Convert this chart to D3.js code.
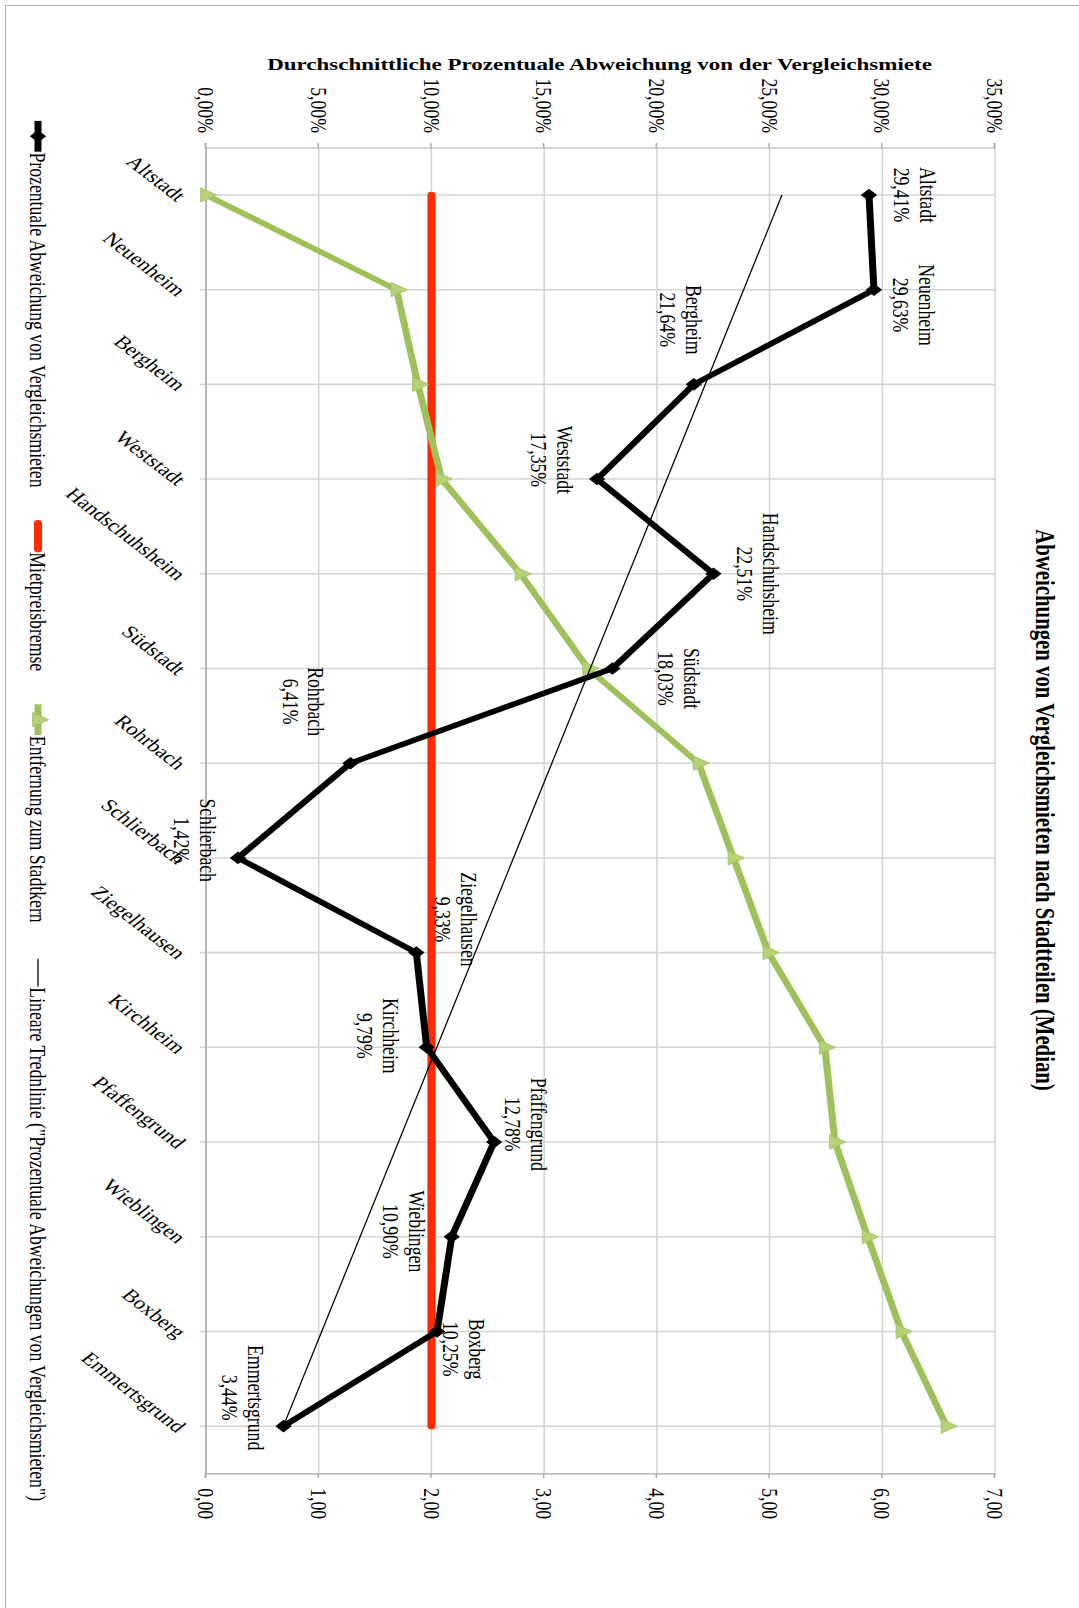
<!DOCTYPE html>
<html lang="de">
<head>
<meta charset="utf-8">
<style>
	body { margin: 0; background: #fff; }
	svg { display: block; }
	text { font-family: "Liberation Serif", "Times New Roman", serif; fill: #000; }
</style>
</head>
<body>
<script src="https://d3js.org/d3.v7.min.js"></script>
<script>
// Daten
var stadtteile = ["Altstadt", "Neuenheim", "Bergheim", "Weststadt", "Handschuhsheim", "Südstadt",
	"Rohrbach", "Schlierbach", "Ziegelhausen", "Kirchheim", "Pfaffengrund", "Wieblingen",
	"Boxberg", "Emmertsgrund"];
var abweichung = [29.41, 29.63, 21.64, 17.35, 22.51, 18.03, 6.41, 1.42, 9.33, 9.79, 12.78, 10.90, 10.25, 3.44];
var entfernung = [0.00, 1.69, 1.88, 2.09, 2.79, 3.39, 4.37, 4.68, 4.99, 5.49, 5.58, 5.87, 6.17, 6.57];
var mietpreisbremse = 10;
var linksTicks = [0, 5, 10, 15, 20, 25, 30, 35];
var rechtsTicks = [0, 1, 2, 3, 4, 5, 6, 7];
var legende = ["Prozentuale Abweichung von Vergleichsmieten", "Mietpreisbremse",
	"Entfernung zum Stadtkern", "Lineare Trednlinie (\"Prozentuale Abweichungen von Vergleichsmieten\")"];

// Beschriftungs-Versatz (im ungedrehten Diagramm)
var labelOffset = [[0, -46], [20, -40], [-84, 13], [-25, 45], [0, -45], [13, -67], [-80, 47],
	[-23, 43], [-43, -40], [-15, 49], [-23, -32], [-7, 48], [23, -27], [-37, 41]];

var W = 1079, H = 1608, K = 0.77;
var fmt = function (v) { return d3.format(".2f")(v).replace(".", ","); };

var svg = d3.select("body").append("svg").attr("width", W).attr("height", H);
svg.append("rect").attr("x", 5.5).attr("y", 5.5).attr("width", W + 10).attr("height", H + 10)
	.attr("fill", "none").attr("stroke", "#b0b0b0");

// the whole chart is drawn upright and then turned onto the page
var g = svg.append("g").attr("transform", "translate(" + W + ",0) rotate(90) scale(" + K + ",1)");

var x0 = 147.6 / K, x1 = 1473.5 / K, yBottom = 873, yTop = 84;
var x = d3.scalePoint().domain(stadtteile).range([x0, x1]).padding(0.5);
var yL = d3.scaleLinear().domain([0, 35]).range([yBottom, yTop]);
var yR = d3.scaleLinear().domain([0, 7]).range([yBottom, yTop]);

// gridlines
g.append("g").selectAll("line").data(linksTicks).enter().append("line")
	.attr("x1", x0).attr("x2", x1)
	.attr("y1", function (d) { return yL(d); }).attr("y2", function (d) { return yL(d); })
	.attr("stroke", "#d4d4d4").attr("stroke-width", 1.5);
g.append("g").selectAll("line").data(stadtteile).enter().append("line")
	.attr("x1", function (d) { return x(d); }).attr("x2", function (d) { return x(d); })
	.attr("y1", yBottom + 6).attr("y2", yTop)
	.attr("stroke", "#d4d4d4").attr("stroke-width", 2);

// axes
function styleAxis(sel) {
	sel.select(".domain").attr("stroke", "#a8a8a8").attr("stroke-width", 1.5);
	sel.selectAll(".tick line").attr("stroke", "#a8a8a8").attr("stroke-width", 1.5);
	sel.selectAll("text").attr("font-family", "Liberation Serif").attr("font-size", 23).attr("fill", "#000");
}
g.append("g").attr("transform", "translate(" + x0 + ",0)")
	.call(d3.axisLeft(yL).tickValues(linksTicks).tickSize(6).tickPadding(13)
		.tickFormat(function (d) { return fmt(d) + "%"; }))
	.call(styleAxis);
g.append("g").attr("transform", "translate(" + x1 + ",0)")
	.call(d3.axisRight(yR).tickValues(rechtsTicks).tickSize(6).tickPadding(13).tickFormat(fmt))
	.call(styleAxis);
g.append("line").attr("x1", x0).attr("x2", x1).attr("y1", yBottom).attr("y2", yBottom)
	.attr("stroke", "#a8a8a8").attr("stroke-width", 1.5);

// category labels
g.append("g").selectAll("text").data(stadtteile).enter().append("text")
	.attr("transform", function (d) { return "translate(" + (x(d) + 4) + "," + (yBottom + 24) + ") rotate(-45)"; })
	.attr("text-anchor", "end").attr("dy", "0.35em").attr("font-size", 23)
	.text(function (d) { return d; });

// axis title and chart title
g.append("text").attr("transform", "translate(82.6,479.5) rotate(-90)")
	.attr("text-anchor", "middle").attr("dy", "0.35em")
	.attr("font-size", 23).attr("font-weight", "bold")
	.text("Durchschnittliche Prozentuale Abweichung von der Vergleichsmiete");
g.append("text").attr("x", 1052).attr("y", 34).attr("dy", "0.35em")
	.attr("text-anchor", "middle").attr("font-size", 27).attr("font-weight", "bold")
	.text("Abweichungen von Vergleichsmieten nach Stadtteilen (Median)");

// Mietpreisbremse
g.append("line")
	.attr("x1", x(stadtteile[0])).attr("x2", x(stadtteile[stadtteile.length - 1]))
	.attr("y1", yL(mietpreisbremse)).attr("y2", yL(mietpreisbremse))
	.attr("stroke", "#ff2a00").attr("stroke-width", 8).attr("stroke-linecap", "round");

// green series
var lineR = d3.line().x(function (d, i) { return x(stadtteile[i]); }).y(function (d) { return yR(d); });
g.append("path").datum(entfernung).attr("d", lineR)
	.attr("fill", "none").attr("stroke", "#9fc15c").attr("stroke-width", 7).attr("stroke-linejoin", "round");
var tri = d3.symbol().type(d3.symbolTriangle).size(150);
g.append("g").selectAll("path").data(entfernung).enter().append("path")
	.attr("d", tri)
	.attr("transform", function (d, i) { return "translate(" + x(stadtteile[i]) + "," + yR(d) + ")"; })
	.attr("fill", "#b5d277").attr("stroke", "#a3c360").attr("stroke-width", 1);

// black series
var lineL = d3.line().x(function (d, i) { return x(stadtteile[i]); }).y(function (d) { return yL(d); });
g.append("path").datum(abweichung).attr("d", lineL)
	.attr("fill", "none").attr("stroke", "#000").attr("stroke-width", 7).attr("stroke-linejoin", "round");
var dia = d3.symbol().type(d3.symbolDiamond2).size(170);
g.append("g").selectAll("path").data(abweichung).enter().append("path")
	.attr("d", dia)
	.attr("transform", function (d, i) { return "translate(" + x(stadtteile[i]) + "," + yL(d) + ")"; })
	.attr("fill", "#000");

// linear trend of the black series
var n = abweichung.length, mx = (n + 1) / 2, my = d3.mean(abweichung);
var sxy = d3.sum(abweichung, function (d, i) { return (i + 1 - mx) * (d - my); });
var sxx = d3.sum(abweichung, function (d, i) { return (i + 1 - mx) * (i + 1 - mx); });
var slope = sxy / sxx;
var trend = function (i) { return my + slope * (i + 1 - mx); };
g.append("line")
	.attr("x1", x(stadtteile[0])).attr("y1", yL(trend(0)))
	.attr("x2", x(stadtteile[n - 1])).attr("y2", yL(trend(n - 1)))
	.attr("stroke", "#000").attr("stroke-width", 1.3);

// data labels
var lab = g.append("g").selectAll("text").data(abweichung).enter().append("text")
	.attr("text-anchor", "middle").attr("font-size", 23)
	.attr("transform", function (d, i) {
		return "translate(" + (x(stadtteile[i]) + labelOffset[i][0]) + "," + (yL(d) + labelOffset[i][1]) + ")";
	});
lab.append("tspan").attr("x", 0).attr("y", -5).text(function (d, i) { return stadtteile[i]; });
lab.append("tspan").attr("x", 0).attr("y", 21).text(function (d) { return fmt(d) + "%"; });

// legend
var leg = g.append("g").attr("transform", "translate(157,1041)");
var pos = 0;
legende.forEach(function (t, i) {
	var item = leg.append("g").attr("transform", "translate(" + pos + ",0)");
	var mw = 40;
	if (i == 0) {
		item.append("line").attr("x1", 0).attr("x2", mw).attr("stroke", "#000").attr("stroke-width", 7);
		item.append("path").attr("d", dia).attr("transform", "translate(" + mw / 2 + ",0)");
	} else if (i == 1) {
		item.append("line").attr("x1", 3).attr("x2", mw - 3).attr("stroke", "#ff2a00")
			.attr("stroke-width", 8).attr("stroke-linecap", "round");
	} else if (i == 2) {
		item.append("line").attr("x1", 0).attr("x2", mw).attr("stroke", "#9fc15c").attr("stroke-width", 7);
		item.append("path").attr("d", tri).attr("transform", "translate(" + mw / 2 + ",0)")
			.attr("fill", "#b5d277").attr("stroke", "#a3c360");
	} else {
		item.append("line").attr("x1", 4).attr("x2", mw).attr("stroke", "#000").attr("stroke-width", 1.3);
	}
	var txt = item.append("text").attr("x", mw + 1).attr("dy", "0.35em").attr("font-size", 23).text(t);
	pos += mw + txt.node().getComputedTextLength() + 44;
});
</script>
</body>
</html>
